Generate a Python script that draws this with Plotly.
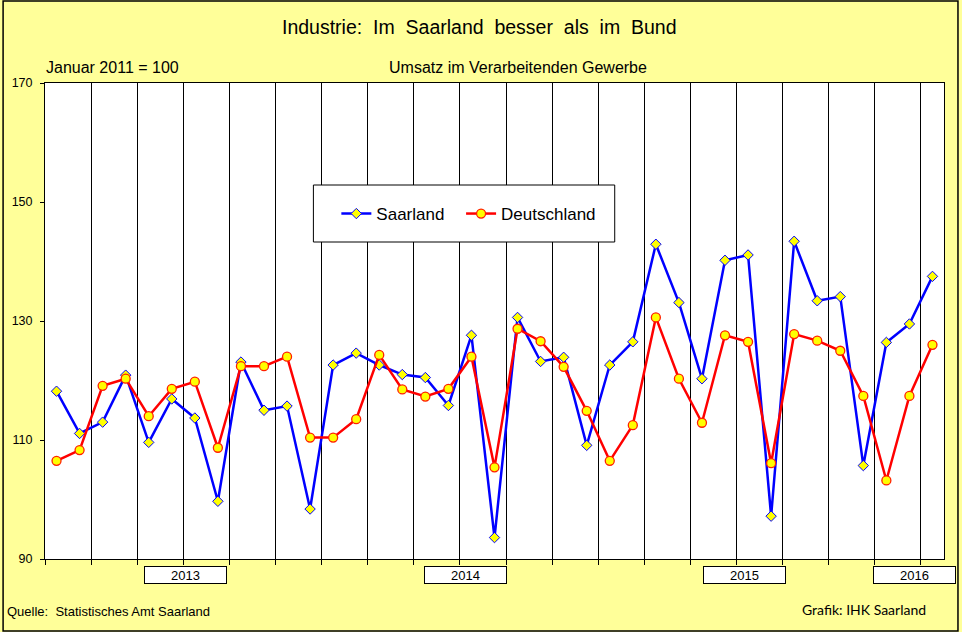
import plotly.graph_objects as go

months = [
    "2013-01", "2013-02", "2013-03", "2013-04", "2013-05", "2013-06",
    "2013-07", "2013-08", "2013-09", "2013-10", "2013-11", "2013-12",
    "2014-01", "2014-02", "2014-03", "2014-04", "2014-05", "2014-06",
    "2014-07", "2014-08", "2014-09", "2014-10", "2014-11", "2014-12",
    "2015-01", "2015-02", "2015-03", "2015-04", "2015-05", "2015-06",
    "2015-07", "2015-08", "2015-09", "2015-10", "2015-11", "2015-12",
    "2016-01", "2016-02", "2016-03",
]

saarland = [118.2, 111.1, 113.0, 120.9, 109.6, 116.9, 113.7, 99.7, 123.1, 115.0,
            115.7, 98.4, 122.6, 124.6, 122.6, 121.0, 120.5, 115.8, 127.6, 93.6,
            130.6, 123.2, 123.9, 109.1, 122.6, 126.5, 142.9, 133.1, 120.3, 140.2,
            141.1, 97.2, 143.4, 133.4, 134.1, 105.7, 126.4, 129.5, 137.5]

deutschland = [106.5, 108.3, 119.1, 120.3, 114.0, 118.6, 119.8, 108.7, 122.4, 122.4,
               124.0, 110.4, 110.4, 113.5, 124.3, 118.5, 117.3, 118.6, 124.0, 105.4,
               128.7, 126.6, 122.3, 114.9, 106.5, 112.5, 130.6, 120.3, 112.9, 127.6,
               126.5, 106.1, 127.8, 126.7, 125.0, 117.4, 103.2, 117.4, 126.0]

year_labels = ["2013", "2014", "2015", "2016"]
year_label_x = [5.58, 17.76, 29.86, 37.20]

y_ticks = [90, 110, 130, 150, 170]

x = list(range(len(months)))

W, H = 962, 632
L, R, T, B = 43, 944, 83, 559


def px(xp):
    return (xp - L) / (R - L)


def py(yp):
    return (B - yp) / (B - T)


fig = go.Figure()
fig.add_trace(go.Scatter(
    x=x, y=saarland, name="Saarland", mode="lines+markers",
    line=dict(color="#0000FF", width=2.5),
    marker=dict(symbol="diamond", size=8, color="#FFFF00",
                line=dict(color="#0000FF", width=1)),
    customdata=months, legend="legend",
))
fig.add_trace(go.Scatter(
    x=x, y=deutschland, name="Deutschland", mode="lines+markers",
    line=dict(color="#FF0000", width=2.5),
    marker=dict(symbol="circle", size=9, color="#FFFF00",
                line=dict(color="#FF2000", width=1.3)),
    customdata=months, legend="legend2",
))

font_main = "Liberation Sans, Arial, sans-serif"

annotations = [
    dict(text="Industrie:\u00a0\u00a0Im\u00a0\u00a0Saarland\u00a0\u00a0besser\u00a0\u00a0als\u00a0\u00a0im\u00a0\u00a0Bund",
         x=px(478.5), y=py(27), xref="paper", yref="paper",
         xanchor="center", yanchor="middle", showarrow=False,
         font=dict(family=font_main, size=19.5, color="#000000")),
    dict(text="Januar 2011 = 100", x=px(42), y=py(67.5), xref="paper", yref="paper",
         xanchor="left", yanchor="middle", showarrow=False,
         font=dict(family=font_main, size=16, color="#000000")),
    dict(text="Umsatz im Verarbeitenden Gewerbe", x=px(517), y=py(67.5),
         xref="paper", yref="paper", xanchor="center", yanchor="middle",
         showarrow=False, font=dict(family=font_main, size=16, color="#000000")),
    dict(text="Quelle:\u00a0\u00a0Statistisches Amt Saarland", x=px(3), y=py(611),
         xref="paper", yref="paper", xanchor="left", yanchor="middle",
         showarrow=False, font=dict(family=font_main, size=13, color="#000000")),
    dict(text="Grafik: IHK Saarland", x=px(800), y=py(609),
         xref="paper", yref="paper", xanchor="left", yanchor="middle",
         showarrow=False, font=dict(family="Lato, Open Sans, sans-serif", size=14, color="#000000")),
]
for lab, xv in zip(year_labels, year_label_x):
    annotations.append(dict(
        text=lab, x=xv, y=py(575), xref="x", yref="paper",
        xanchor="center", yanchor="middle", showarrow=False,
        bgcolor="#FFFFFF", bordercolor="#000000", borderwidth=1, borderpad=1,
        width=79, height=14,
        font=dict(family=font_main, size=13, color="#000000"),
    ))

shapes = [
    # legend box
    dict(type="rect", xref="paper", yref="paper",
         x0=px(312), x1=px(614), y0=py(242), y1=py(185),
         fillcolor="#FFFFFF", line=dict(color="#000000", width=1), layer="above"),
    # outer frame
    dict(type="rect", xref="paper", yref="paper",
         x0=px(1), x1=px(958), y0=py(631), y1=py(1),
         fillcolor="rgba(0,0,0,0)", line=dict(color="#000000", width=1.5), layer="above"),
]

legend_common = dict(
    orientation="h", yanchor="middle", xanchor="left",
    bgcolor="rgba(0,0,0,0)", borderwidth=0,
    font=dict(family=font_main, size=17, color="#000000"),
    itemwidth=30,
)

fig.update_layout(
    width=W, height=H, autosize=False,
    margin=dict(l=L, r=W - R, t=T, b=H - B, pad=0),
    paper_bgcolor="#FFFF99",
    plot_bgcolor="#FFFFFF",
    font=dict(family=font_main, size=12, color="#000000"),
    showlegend=True,
    legend=dict(x=px(335), y=py(214), **legend_common),
    legend2=dict(x=px(460), y=py(214), **legend_common),
    xaxis=dict(
        range=[-0.5, len(months) - 0.5],
        tickvals=[i - 0.5 for i in range(0, len(months) + 1, 2)],
        showticklabels=False,
        ticks="outside", ticklen=5, tickcolor="#000000", tickwidth=1,
        showgrid=True, gridcolor="#000000", gridwidth=1,
        showline=True, linecolor="#000000", linewidth=1, mirror=True,
        zeroline=False, fixedrange=True,
    ),
    yaxis=dict(
        range=[90, 170], tickvals=y_ticks,
        ticks="outside", ticklen=4, tickcolor="#000000", tickwidth=1,
        ticklabelstandoff=5,
        tickfont=dict(family=font_main, size=12.5, color="#000000"),
        showgrid=False,
        showline=True, linecolor="#000000", linewidth=1, mirror=True,
        zeroline=False, fixedrange=True,
    ),
    annotations=annotations,
    shapes=shapes,
    hovermode="closest",
)

fig.write_html(
    "out.html",
    config={"displayModeBar": False},
    post_script="document.body.style.margin='0px';document.body.style.padding='0px';",
)
